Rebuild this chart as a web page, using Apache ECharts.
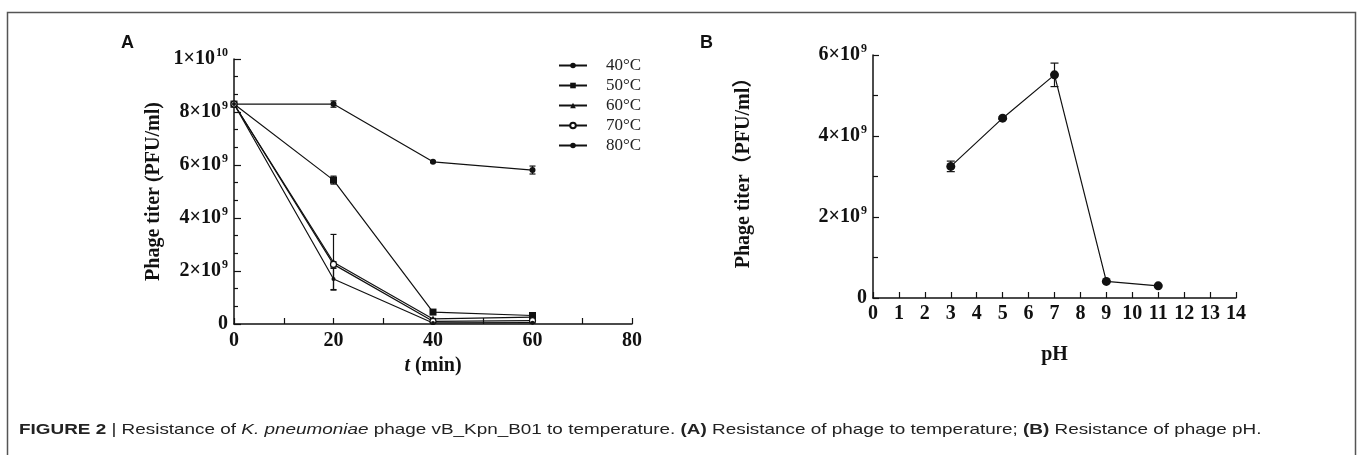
<!DOCTYPE html>
<html><head><meta charset="utf-8">
<script src="https://cdn.jsdelivr.net/npm/echarts@6/dist/echarts.min.js"></script>
<style>html,body{margin:0;padding:0;background:#fff}#c{width:1358px;height:455px}</style>
</head><body><div id="c"></div><script>
// ---- Panel A: temperature ----
const timeMin = [0, 20, 40, 60];
const tempNames = ['40°C', '50°C', '60°C', '70°C', '80°C'];
const t40 = [8.3e9, 8.3e9, 6.12e9, 5.81e9];
const t40err = [0.05e9, 0.12e9, 0.03e9, 0.15e9];
const t50 = [8.3e9, 5.43e9, 0.45e9, 0.32e9];
const t50err = [0, 0.15e9, 0.03e9, 0.05e9];
const t60 = [8.3e9, 2.33e9, 0.19e9, 0.26e9];
const t60err = [0, 1.05e9, 0.02e9, 0.04e9];
const t70 = [8.3e9, 2.25e9, 0.1e9, 0.13e9];
const t70err = [0, 0.1e9, 0.02e9, 0.03e9];
const t80 = [8.3e9, 1.7e9, 0.04e9, 0.05e9];
const t80err = [0, 0.4e9, 0.01e9, 0.02e9];
const xTicksA = [0, 20, 40, 60, 80];
const yTicksA = [0, 2e9, 4e9, 6e9, 8e9, 1e10];
const yTickLabelsA = ['0', '2×10^9', '4×10^9', '6×10^9', '8×10^9', '1×10^10'];
// ---- Panel B: pH ----
const pH = [3, 5, 7, 9, 11];
const pHTiter = [3.25e9, 4.44e9, 5.51e9, 0.41e9, 0.30e9];
const pHErr = [0.13e9, 0.03e9, 0.29e9, 0.02e9, 0.02e9];
const yTicksB = [0, 2e9, 4e9, 6e9];
const yTickLabelsB = ['0', '2×10^9', '4×10^9', '6×10^9'];

const serif = 'Liberation Serif';
const ink = '#111';

function supLabel(labels, ticks) {
  return function (v) {
    const i = ticks.findIndex(t => Math.abs(t - v) < 1);
    if (i < 0) return '';
    const s = labels[i];
    if (s.indexOf('^') < 0) return '{b|' + s + '}';
    const [b, e] = s.split('^');
    return '{b|' + b + '}{s|' + e + '}';
  };
}
const richSup = {
  b: { fontFamily: serif, fontWeight: 'bold', fontSize: 20, color: ink, lineHeight: 24 },
  s: { fontFamily: serif, fontWeight: 'bold', fontSize: 12, color: ink, lineHeight: 12, verticalAlign: 'top', padding: [0, 0, 0, 1] }
};

function errData(xs, ys, es) {
  return xs.map((x, i) => [x, ys[i] - es[i], ys[i] + es[i]]);
}
function errSeries(data, xi, yi, cap) {
  return {
    type: 'custom', xAxisIndex: xi, yAxisIndex: yi, silent: true, z: 3,
    data: data.filter(d => d[2] - d[1] > 0),
    renderItem: function (params, api) {
      const x = api.value(0);
      const lo = api.coord([x, api.value(1)]);
      const hi = api.coord([x, api.value(2)]);
      const st = { stroke: ink, lineWidth: 1.2 };
      return { type: 'group', children: [
        { type: 'line', shape: { x1: lo[0], y1: lo[1], x2: hi[0], y2: hi[1] }, style: st },
        { type: 'line', shape: { x1: lo[0] - cap, y1: lo[1], x2: lo[0] + cap, y2: lo[1] }, style: st },
        { type: 'line', shape: { x1: hi[0] - cap, y1: hi[1], x2: hi[0] + cap, y2: hi[1] }, style: st }
      ]};
    }
  };
}
function lineSeries(name, xs, ys, symbol, size, fill) {
  return {
    name: name, type: 'line', xAxisIndex: 0, yAxisIndex: 0, z: 4,
    data: xs.map((x, i) => [x, ys[i]]),
    symbol: symbol, symbolSize: size, showSymbol: true,
    lineStyle: { color: ink, width: 1.2 },
    itemStyle: { color: fill, borderColor: ink, borderWidth: fill === '#fff' ? 1.2 : 0 },
    emphasis: { disabled: true }
  };
}

const axisLine = { show: true, onZero: false, lineStyle: { color: ink, width: 1.5 } };
const tickLbl = { fontFamily: serif, fontWeight: 'bold', fontSize: 20, color: ink };

const option = {
  animation: false,
  backgroundColor: '#fff',
  grid: [
    { left: 234, top: 59, width: 398, height: 265 },
    { left: 873, top: 55, width: 363, height: 243 }
  ],
  legend: {
    data: tempNames, orient: 'vertical', left: 553, top: 52, itemGap: 3,
    itemWidth: 28, itemHeight: 7,
    textStyle: { fontFamily: serif, fontSize: 17, color: '#222', padding: [0, 0, 0, 14] },
    selectedMode: false
  },
  xAxis: [
    { type: 'value', gridIndex: 0, min: 0, max: 80, interval: 20,
      axisLine: axisLine, splitLine: { show: false },
      axisTick: { inside: true, length: 6, lineStyle: { color: ink, width: 1.2 } },
      minorTick: { show: true, splitNumber: 2, length: 6, lineStyle: { color: ink, width: 1.2 } },
      axisLabel: Object.assign({ margin: 7, formatter: v => xTicksA.includes(v) ? String(v) : '' }, tickLbl),
      name: '{i|t} (min)', nameLocation: 'middle', nameGap: 32,
      nameTextStyle: { fontFamily: serif, fontWeight: 'bold', fontSize: 20, color: ink,
        rich: { i: { fontFamily: serif, fontWeight: 'bold', fontStyle: 'italic', fontSize: 20, color: ink } } } },
    { type: 'value', gridIndex: 1, min: 0, max: 14, interval: 1,
      axisLine: axisLine, splitLine: { show: false },
      axisTick: { inside: true, length: 6, lineStyle: { color: ink, width: 1.2 } },
      axisLabel: Object.assign({ margin: 6 }, tickLbl),
      name: 'pH', nameLocation: 'middle', nameGap: 47,
      nameTextStyle: { fontFamily: serif, fontWeight: 'bold', fontSize: 20, color: ink } }
  ],
  yAxis: [
    { type: 'value', gridIndex: 0, min: 0, max: 1e10, interval: 2e9,
      axisLine: axisLine, splitLine: { show: false },
      axisTick: { inside: true, length: 7, lineStyle: { color: ink, width: 1.2 } },
      minorTick: { show: true, splitNumber: 3, length: 4, lineStyle: { color: ink, width: 1.2 } },
      axisLabel: { margin: 6, formatter: supLabel(yTickLabelsA, yTicksA), rich: richSup },
      name: 'Phage titer (PFU/ml)', nameLocation: 'middle', nameGap: 70,
      nameTextStyle: { fontFamily: serif, fontWeight: 'bold', fontSize: 20, color: ink } },
    { type: 'value', gridIndex: 1, min: 0, max: 6e9, interval: 2e9,
      axisLine: axisLine, splitLine: { show: false },
      axisTick: { inside: true, length: 6, lineStyle: { color: ink, width: 1.2 } },
      minorTick: { show: true, splitNumber: 2, length: 5, lineStyle: { color: ink, width: 1.2 } },
      axisLabel: { margin: 6, formatter: supLabel(yTickLabelsB, yTicksB), rich: richSup } }
  ],
  series: [
    lineSeries(tempNames[0], timeMin, t40, 'circle', 6, ink),
    lineSeries(tempNames[1], timeMin, t50, 'rect', 7, ink),
    lineSeries(tempNames[2], timeMin, t60, 'triangle', 7, ink),
    lineSeries(tempNames[3], timeMin, t70, 'circle', 6, '#fff'),
    lineSeries(tempNames[4], timeMin, t80, 'circle', 4, ink),
    errSeries(errData(timeMin, t40, t40err), 0, 0, 3),
    errSeries(errData(timeMin, t50, t50err), 0, 0, 3),
    errSeries(errData(timeMin, t60, t60err), 0, 0, 3),
    errSeries(errData(timeMin, t70, t70err), 0, 0, 3),
    errSeries(errData(timeMin, t80, t80err), 0, 0, 3),
    { name: 'pH', type: 'line', xAxisIndex: 1, yAxisIndex: 1, z: 4,
      data: pH.map((x, i) => [x, pHTiter[i]]), symbol: 'circle', symbolSize: 9,
      lineStyle: { color: ink, width: 1.2 }, itemStyle: { color: ink }, emphasis: { disabled: true } },
    errSeries(errData(pH, pHTiter, pHErr), 1, 1, 4)
  ],
  graphic: [
    { type: 'polyline', shape: { points: [[7.5, 470], [7.5, 12.5], [1355.5, 12.5], [1355.5, 470]] },
      style: { stroke: '#555', lineWidth: 1.5, fill: null } },
    { type: 'text', left: 121, top: 34, style: { text: 'A', font: 'bold 18px "Liberation Sans"', fill: ink } },
    { type: 'text', left: 700, top: 34, style: { text: 'B', font: 'bold 18px "Liberation Sans"', fill: ink } },
    { type: 'text', x: 754, y: 168, rotation: Math.PI / 2,
      style: { text: 'Phage titer（PFU/ml）', font: 'bold 20px "Liberation Serif", "Noto Sans CJK SC"',
        fill: ink, align: 'center', verticalAlign: 'bottom' } },
    { type: 'text', x: 19, y: 422, scaleX: 1.26,
      style: {
        text: '{b|FIGURE 2} | Resistance of {i|K. pneumoniae} phage vB_Kpn_B01 to temperature. {b|(A)} Resistance of phage to temperature; {b|(B)} Resistance of phage pH.',
        font: '15px "Liberation Sans"', fill: '#222',
        rich: {
          b: { font: 'bold 15px "Liberation Sans"', fill: '#222' },
          i: { font: 'italic 15px "Liberation Sans"', fill: '#222' }
        }
      } }
  ]
};
const chart = echarts.init(document.getElementById('c'), null, { renderer: 'canvas' });
chart.setOption(option);
</script></body></html>
